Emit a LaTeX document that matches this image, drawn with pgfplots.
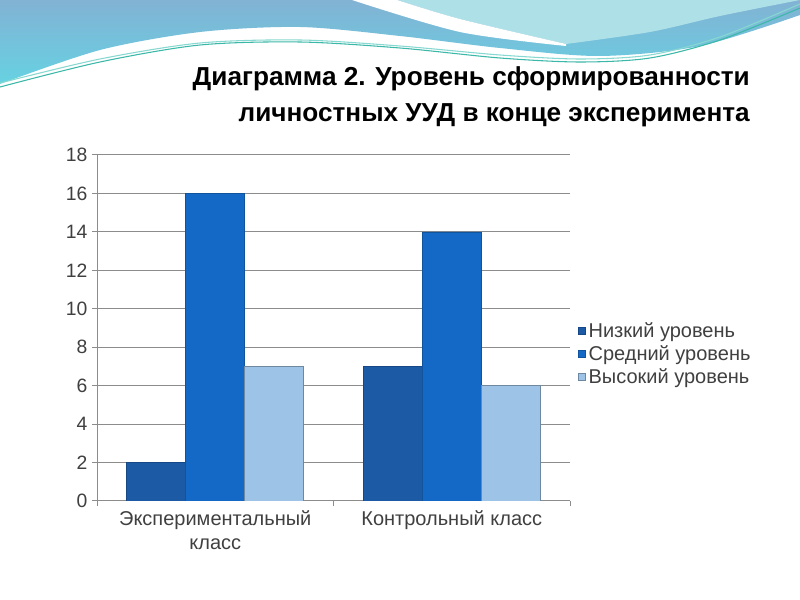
\documentclass[border=0pt]{standalone}
\usepackage{pgfplots}
\pgfplotsset{compat=1.18}
\usepackage{fontspec}
\setmainfont{Liberation Sans}
\usepackage{graphicx}
\definecolor{cdark}{HTML}{1C5AA6}
\definecolor{cmid}{HTML}{1469C6}
\definecolor{clight}{HTML}{9DC3E6}
\definecolor{gridc}{HTML}{8C8C8C}
\definecolor{txt}{HTML}{404040}
\definecolor{wtop}{HTML}{82B2D4}
\definecolor{wbot}{HTML}{66D2E2}
\definecolor{wcyan}{HTML}{AEE0E8}
\definecolor{teal1}{HTML}{3CB8A8}
\definecolor{teal2}{HTML}{86D8D0}
\begin{document}
\begin{tikzpicture}
\fill[white] (0,0) rectangle (600pt,450pt);
\useasboundingbox (0,0) rectangle (600pt,450pt);
\begin{scope}[x=0.75pt,y=0.75pt]
\clip (0,0) rectangle (800,600);
\shade[top color=wtop, bottom color=wbot] (0,600) -- (800,600) -- plot[smooth] coordinates {(800,585) (700,554) (600,544) (500,552) (400,564) (300,573) (200,568) (100,550) (0,516)} -- cycle;
\fill[wcyan] plot[smooth] coordinates {(397,600) (460,581) (566,556)} -- plot[smooth] coordinates {(566,556) (650,568) (720,584) (800,600)} -- cycle;
\fill[white] plot[smooth] coordinates {(352,600) (460,568) (566,554)} -- plot[smooth] coordinates {(566,556) (460,581) (397,600)} -- cycle;
\draw[teal1, line width=0.8pt] plot[smooth] coordinates {(0,513) (100,538) (200,555) (300,558) (400,552) (500,542) (580,538) (650,542) (720,560) (800,592)};
\draw[teal2, line width=0.8pt] plot[smooth] coordinates {(0,517) (100,541) (200,557) (300,560) (400,554) (500,545) (580,541) (650,545) (720,563) (800,596)};
\node[anchor=base east, inner sep=0pt] at (750,514) {\resizebox{417.75pt}{\height}{\fontsize{19.5}{20}\selectfont\bfseries Диаграмма 2. Уровень сформированности}};
\node[anchor=base east, inner sep=0pt] at (750,478) {\resizebox{383.25pt}{\height}{\fontsize{19.5}{20}\selectfont\bfseries личностных УУД в конце эксперимента}};
\end{scope}
\begin{axis}[
  at={(72.75pt,74.25pt)}, anchor=south west,
  scale only axis, width=354.75pt, height=259.5pt,
  xmin=-0.5, xmax=1.5, ymin=0, ymax=18,
  ybar, bar width=44.25pt,
  xtick={0,1},
  xticklabels={{Экспериментальный\\класс},{Контрольный класс}},
  minor xtick={-0.5,0.5,1.5},
  ytick={0,2,...,18},
  axis x line*=bottom, axis y line*=left,
  axis line style={gridc, line width=0.75pt},
  ymajorgrids, grid style={gridc, line width=0.75pt},
  tick align=outside, major tick length=3.75pt, minor tick length=3.75pt,
  ytick style={gridc, line width=0.75pt},
  major x tick style={draw=none},
  minor x tick style={gridc, line width=0.75pt},
  yticklabel style={font=\fontsize{14.5}{17}\selectfont, text=txt},
  xticklabel style={font=\fontsize{15}{18}\selectfont, text=txt, align=center},
  /pgf/number format/assume math mode=true,
  legend style={draw=none, fill=none, at={(1,0.425)}, anchor=west, xshift=6pt,
    font=\fontsize{15}{17}\selectfont, text=txt, row sep=0.5pt, inner sep=0pt},
  legend cell align=left,
  legend image code/.code={\fill[#1] (0pt,-2.6pt) rectangle (5.25pt,2.6pt);},
]
\addplot[fill=cdark, draw=cdark!80!black, line width=0.5pt, bar shift=-44.25pt] coordinates {(0,2) (1,7)};
\addplot[fill=cmid, draw=cmid!80!black, line width=0.5pt, bar shift=0pt] coordinates {(0,16) (1,14)};
\addplot[fill=clight, draw=clight!70!black, line width=0.5pt, bar shift=44.25pt] coordinates {(0,7) (1,6)};
\legend{Низкий уровень, Средний уровень, Высокий уровень}
\end{axis}
\end{tikzpicture}
\end{document}
